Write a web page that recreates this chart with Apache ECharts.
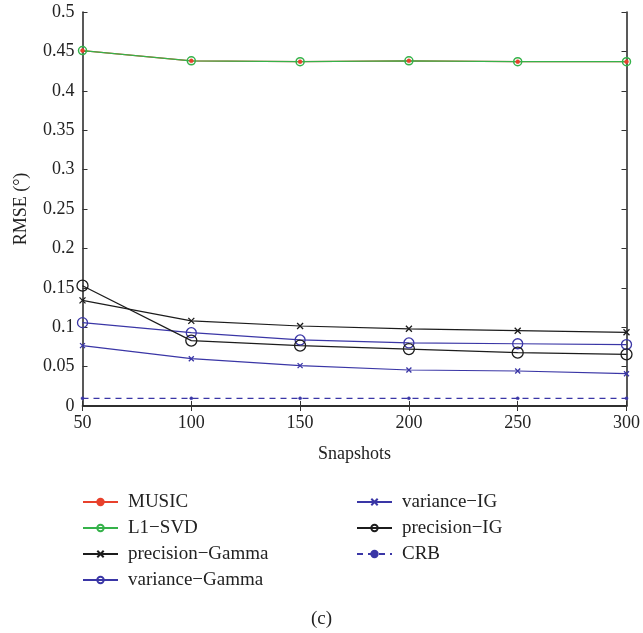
<!DOCTYPE html>
<html>
<head>
<meta charset="utf-8">
<script src="https://cdn.jsdelivr.net/npm/echarts@6/dist/echarts.min.js"></script>
<style>html,body{margin:0;padding:0;background:#fff}#c{width:643px;height:633px}</style>
</head>
<body>
<div id="c"></div>
<script>
const snapshots = [50, 100, 150, 200, 250, 300];
const music = [0.451, 0.438, 0.437, 0.438, 0.437, 0.437];
const l1svd = [0.451, 0.438, 0.437, 0.438, 0.437, 0.437];
const precisionGamma = [0.134, 0.108, 0.1015, 0.098, 0.0956, 0.0935];
const varianceGamma = [0.1058, 0.093, 0.0838, 0.080, 0.079, 0.078];
const varianceIG = [0.0766, 0.060, 0.0512, 0.0457, 0.0444, 0.041];
const precisionIG = [0.1527, 0.083, 0.0766, 0.0723, 0.0677, 0.0656];
const crb = [0.0098, 0.0098, 0.0098, 0.0098, 0.0098, 0.0098];
const yTicks = [0, 0.05, 0.1, 0.15, 0.2, 0.25, 0.3, 0.35, 0.4, 0.45, 0.5];

const FONT = 'Liberation Serif';
const BLACK = '#1c1c1c', BLUE = '#3a36a6', RED = '#e8412c', GREEN = '#35b24a';
const XMARK = 'path://M0,0L10,10M10,0L0,10';
const pair = arr => snapshots.map((s, i) => [s, arr[i]]);

function mk(name, data, color, symbol, size, opts) {
  opts = opts || {};
  return Object.assign({
    name: name, type: 'line', data: pair(data),
    symbol: symbol, symbolSize: size, showSymbol: true,
    lineStyle: { color: color, width: 1.2, type: opts.dash ? [6, 5] : 'solid' },
    itemStyle: {
      color: opts.fill || 'rgba(0,0,0,0)',
      borderColor: color, borderWidth: opts.bw || 1.3
    },
    emphasis: { disabled: true },
    animation: false
  }, opts.extra || {});
}

const series = [
  mk('MUSIC', music, RED, 'circle', 4, { fill: RED, bw: 0.5 }),
  mk('L1\u2212SVD', l1svd, GREEN, 'circle', 8, { bw: 1.5 }),
  mk('precision\u2212Gamma', precisionGamma, BLACK, XMARK, 6),
  mk('variance\u2212Gamma', varianceGamma, BLUE, 'circle', 10),
  mk('variance\u2212IG', varianceIG, BLUE, XMARK, 5),
  mk('precision\u2212IG', precisionIG, BLACK, 'circle', 11),
  mk('CRB', crb, BLUE, 'circle', 3, { fill: BLUE, bw: 0.5, dash: true })
];

const chart = echarts.init(document.getElementById('c'), null, { renderer: 'canvas' });
const axisLine = { show: true, lineStyle: { color: '#222', width: 1.5 } };
const tick = { show: true, inside: true, length: 5, lineStyle: { color: '#333', width: 1 } };
const legendText = { fontFamily: FONT, fontSize: 19, color: '#222', lineHeight: 20, padding: [0, 0, 0, 5] };
chart.setOption({
  backgroundColor: '#fff',
  animation: false,
  grid: { left: 82.5, right: 14.5, top: 12, bottom: 227, containLabel: false },
  xAxis: [
    {
      type: 'value', min: 50, max: 300, interval: 50,
      name: 'Snapshots', nameLocation: 'middle', nameGap: 39,
      nameTextStyle: { fontFamily: FONT, fontSize: 18, color: '#222' },
      axisLine: axisLine, axisTick: tick, splitLine: { show: false },
      axisLabel: { fontFamily: FONT, fontSize: 18, color: '#222', margin: 8 }
    },
    {
      type: 'value', min: 50, max: 300, interval: 50, position: 'top',
      axisLine: axisLine, axisTick: tick, splitLine: { show: false },
      axisLabel: { show: false }
    }
  ],
  yAxis: [
    {
      type: 'value', min: 0, max: 0.5, interval: 0.05,
      name: 'RMSE (\u00b0)', nameLocation: 'middle', nameGap: 52, nameRotate: 90,
      nameTextStyle: { fontFamily: FONT, fontSize: 18, color: '#222' },
      axisLine: axisLine, axisTick: tick, splitLine: { show: false },
      axisLabel: {
        fontFamily: FONT, fontSize: 18, color: '#222', margin: 8,
        formatter: v => { const t = yTicks.find(x => Math.abs(x - v) < 1e-9); return t === undefined ? '' : String(t); }
      }
    },
    {
      type: 'value', min: 0, max: 0.5, interval: 0.05, position: 'right',
      axisLine: axisLine, axisTick: tick, splitLine: { show: false },
      axisLabel: { show: false }
    }
  ],
  legend: [
    {
      data: ['MUSIC', 'L1\u2212SVD', 'precision\u2212Gamma', 'variance\u2212Gamma'],
      orient: 'vertical', left: 82, top: 492, itemWidth: 35, itemHeight: 8, itemGap: 6,
      textStyle: legendText, selectedMode: false, padding: 0
    },
    {
      data: ['variance\u2212IG', 'precision\u2212IG', 'CRB'],
      orient: 'vertical', left: 356, top: 492, itemWidth: 35, itemHeight: 8, itemGap: 6,
      textStyle: legendText, selectedMode: false, padding: 0
    }
  ],
  graphic: [
    { type: 'text', left: 'center', top: 610, style: { text: '(c)', font: '19px "Liberation Serif"', fill: '#222' } }
  ],
  series: series
});
</script>
</body>
</html>
